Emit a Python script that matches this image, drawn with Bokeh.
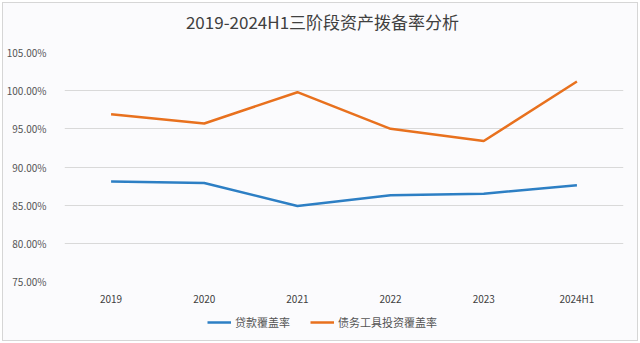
from bokeh.plotting import figure
from bokeh.layouts import column
from bokeh.models import (ColumnDataSource, Range1d, PrintfTickFormatter, FixedTicker,
                          Legend, LegendItem, Label)
from bokeh.embed import file_html
from bokeh.resources import INLINE

# ---- data ----
categories = ["2019", "2020", "2021", "2022", "2023", "2024H1"]
loan_coverage = [88.1, 87.9, 84.9, 86.3, 86.5, 87.6]          # 贷款覆盖率 (%)
debt_coverage = [96.9, 95.7, 99.8, 95.0, 93.4, 101.2]         # 债务工具投资覆盖率 (%)
y_ticks = [75, 80, 85, 90, 95, 100, 105]
title_text = "2019-2024H1三阶段资产拨备率分析"
series_names = ["贷款覆盖率", "债务工具投资覆盖率"]

FONT = "Noto Sans CJK SC"
BG = "#fbfbfd"
BLUE = "#2d7fc4"
ORANGE = "#e8711e"

src = ColumnDataSource(dict(cat=categories, loan=loan_coverage, debt=debt_coverage))

W, H_TITLE, H_MAIN, H_LEG = 634, 40, 265, 32


def strip(height):
    f = figure(width=W, height=height, x_range=Range1d(0, 1), y_range=Range1d(0, 1),
               output_backend="svg", toolbar_location=None,
               x_axis_type=None, y_axis_type=None,
               min_border_left=0, min_border_right=0, min_border_top=0, min_border_bottom=0)
    f.background_fill_color = BG
    f.border_fill_color = BG
    f.outline_line_color = None
    f.grid.grid_line_color = None
    return f


# ---------------- title strip ----------------
tp = strip(H_TITLE)
tp.add_layout(Label(x=258, y=H_TITLE - 18, x_units="screen", y_units="screen",
                    text=title_text, text_align="center", text_baseline="middle",
                    text_font=FONT, text_font_size="17px", text_color="#404040"))

# ---------------- main chart ----------------
p = figure(width=W, height=H_MAIN, x_range=categories, y_range=Range1d(75, 105),
           output_backend="svg", toolbar_location=None,
           min_border_left=59, min_border_right=14, min_border_top=9, min_border_bottom=24)
p.background_fill_color = BG
p.border_fill_color = BG
p.outline_line_color = None

p.line("cat", "loan", source=src, line_color=BLUE, line_width=2.5)
p.line("cat", "debt", source=src, line_color=ORANGE, line_width=2.5)

p.yaxis.ticker = FixedTicker(ticks=y_ticks)
p.yaxis.formatter = PrintfTickFormatter(format="%.2f%%")
for ax in (p.xaxis[0], p.yaxis[0]):
    ax.axis_line_color = None
    ax.major_tick_line_color = None
    ax.minor_tick_line_color = None
    ax.major_label_text_font = FONT
    ax.major_label_text_font_size = "10px"
    ax.major_label_text_color = "#555555"
p.yaxis.major_label_standoff = 12
p.xaxis.major_label_standoff = 3
p.xaxis.major_label_text_color = "#404040"

p.xgrid.grid_line_color = None
p.ygrid.grid_line_color = "#d9d9d9"
p.ygrid.grid_line_width = 1

# ---------------- legend strip ----------------
lp = figure(width=W, height=H_LEG, x_range=categories, y_range=Range1d(0, 1),
            output_backend="svg", toolbar_location=None,
            x_axis_type=None, y_axis_type=None,
            min_border_left=0, min_border_right=0, min_border_top=0, min_border_bottom=0)
lp.background_fill_color = BG
lp.border_fill_color = BG
lp.outline_line_color = None
lp.grid.grid_line_color = None
# same series, outside the visible range; they only feed the legend glyphs
l1 = lp.line("cat", "loan", source=src, line_color=BLUE, line_width=2.5)
l2 = lp.line("cat", "debt", source=src, line_color=ORANGE, line_width=2.5)

legend = Legend(items=[LegendItem(label=series_names[0], renderers=[l1]),
                       LegendItem(label=series_names[1], renderers=[l2])],
                orientation="horizontal", location=(143, 10),
                glyph_width=24, glyph_height=14, label_height=14,
                label_standoff=4, spacing=20, padding=0, margin=0,
                label_text_font=FONT, label_text_font_size="11px",
                label_text_color="#555555",
                background_fill_alpha=0, border_line_color=None)
lp.add_layout(legend, "center")

layout = column(tp, p, lp, spacing=0)
layout.styles = {"margin": "2px 3px 3px 2px", "border": "1px solid #d6d6d6",
                 "background-color": BG}

open("out.html", "w").write(file_html(layout, INLINE))
